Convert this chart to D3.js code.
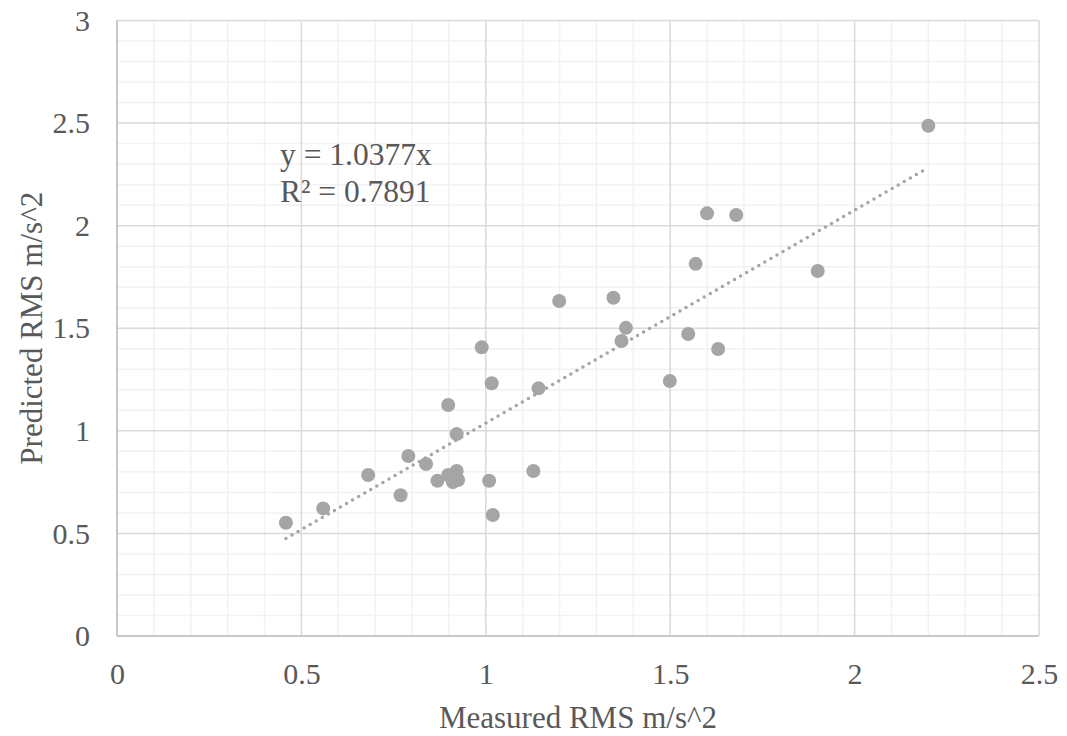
<!DOCTYPE html>
<html>
<head>
<meta charset="utf-8">
<script src="https://cdn.jsdelivr.net/npm/d3@7"></script>
<style>
  html, body { margin: 0; padding: 0; background: #ffffff; }
  svg { display: block; }
  svg text { font-family: "Liberation Serif", "Times New Roman", serif !important; fill: #595959; }
</style>
</head>
<body>
<svg id="chart" width="1067" height="736"></svg>
<script>
// ---- data ----
const measured = [0.458, 0.559, 0.681, 0.769, 0.790, 0.838, 0.869, 0.898, 0.921, 0.911, 0.925,
  0.921, 0.898, 0.989, 1.016, 1.009, 1.019, 1.129, 1.143, 1.199, 1.346, 1.368, 1.380,
  1.499, 1.549, 1.569, 1.600, 1.630, 1.679, 1.900, 2.200];
const predicted = [0.552, 0.622, 0.785, 0.686, 0.877, 0.838, 0.757, 0.785, 0.804, 0.750, 0.760,
  0.984, 1.126, 1.407, 1.232, 0.757, 0.590, 0.804, 1.207, 1.633, 1.649, 1.438, 1.502,
  1.243, 1.472, 1.814, 2.060, 1.399, 2.052, 1.779, 2.487];
const trendSlope = [1.0377];
const trendLabels = ["y = 1.0377x", "R² = 0.7891"];
const xTicks = [0, 0.5, 1, 1.5, 2, 2.5];
const yTicks = [0, 0.5, 1, 1.5, 2, 2.5, 3];
const xTitle = "Measured RMS m/s^2";
const yTitle = "Predicted RMS m/s^2";

// ---- layout ----
const FONT = '"Liberation Serif", "Times New Roman", serif';
const L = 117, R = 1039, T = 20.5, B = 636;
const svg = d3.select("#chart");
const x = d3.scaleLinear().domain([0, 2.5]).range([L, R]);
const y = d3.scaleLinear().domain([0, 3]).range([B, T]);

const minorX = d3.range(0, 25).map(i => i / 10).filter(v => Math.abs(v * 2 - Math.round(v * 2)) > 1e-6);
const minorY = d3.range(0, 30).map(i => i / 10).filter(v => Math.abs(v * 2 - Math.round(v * 2)) > 1e-6);

const grid = svg.append("g");
grid.selectAll(".mx").data(minorX).enter().append("line")
  .attr("x1", d => x(d)).attr("x2", d => x(d)).attr("y1", T).attr("y2", B)
  .attr("stroke", "#f2f2f2").attr("stroke-width", 1.5);
grid.selectAll(".my").data(minorY).enter().append("line")
  .attr("y1", d => y(d)).attr("y2", d => y(d)).attr("x1", L).attr("x2", R)
  .attr("stroke", "#f2f2f2").attr("stroke-width", 1.5);
grid.selectAll(".Mx").data(xTicks).enter().append("line")
  .attr("x1", d => x(d)).attr("x2", d => x(d)).attr("y1", T).attr("y2", B)
  .attr("stroke", "#d9d9d9").attr("stroke-width", 1.5);
grid.selectAll(".My").data(yTicks).enter().append("line")
  .attr("y1", d => y(d)).attr("y2", d => y(d)).attr("x1", L).attr("x2", R)
  .attr("stroke", "#d9d9d9").attr("stroke-width", 1.5);
// axis lines
svg.append("line").attr("x1", L).attr("x2", R).attr("y1", B).attr("y2", B)
  .attr("stroke", "#bfbfbf").attr("stroke-width", 1.5);
svg.append("line").attr("x1", L).attr("x2", L).attr("y1", T).attr("y2", B)
  .attr("stroke", "#bfbfbf").attr("stroke-width", 1.5);

// tick labels via axes
const xAxis = svg.append("g").attr("transform", `translate(0,${B})`)
  .call(d3.axisBottom(x).tickValues(xTicks).tickSize(0).tickPadding(27).tickFormat(d3.format("")));
const yAxis = svg.append("g").attr("transform", `translate(${L},0)`)
  .call(d3.axisLeft(y).tickValues(yTicks).tickSize(0).tickPadding(27).tickFormat(d3.format("")));
[xAxis, yAxis].forEach(a => {
  a.attr("font-family", FONT).attr("font-size", 30);
  a.select(".domain").remove();
  a.selectAll("text").attr("font-size", 30).attr("fill", "#595959").attr("font-family", FONT);
});

// axis titles
svg.append("text").attr("x", (L + R) / 2).attr("y", 728)
  .attr("text-anchor", "middle").attr("font-size", 31).attr("font-family", FONT).text(xTitle);
svg.append("text").attr("transform", `translate(42,${(T + B) / 2}) rotate(-90)`)
  .attr("text-anchor", "middle").attr("font-size", 31).attr("font-family", FONT).text(yTitle);

// trendline
const xMin = d3.min(measured), xMax = d3.max(measured);
svg.append("line")
  .attr("x1", x(xMin)).attr("y1", y(trendSlope[0] * xMin))
  .attr("x2", x(xMax)).attr("y2", y(trendSlope[0] * xMax))
  .attr("stroke", "#a5a5a5").attr("stroke-width", 3.5)
  .attr("stroke-dasharray", "0 7").attr("stroke-linecap", "round");

// points
svg.append("g").selectAll("circle").data(measured).enter().append("circle")
  .attr("cx", d => x(d)).attr("cy", (d, i) => y(predicted[i]))
  .attr("r", 7).attr("fill", "#a5a5a5");

// trend label
svg.append("g").selectAll("text").data(trendLabels).enter().append("text")
  .attr("x", 280).attr("y", (d, i) => 165 + i * 36.5)
  .attr("font-size", 31.5).attr("font-family", FONT).text(d => d);
</script>
</body>
</html>
